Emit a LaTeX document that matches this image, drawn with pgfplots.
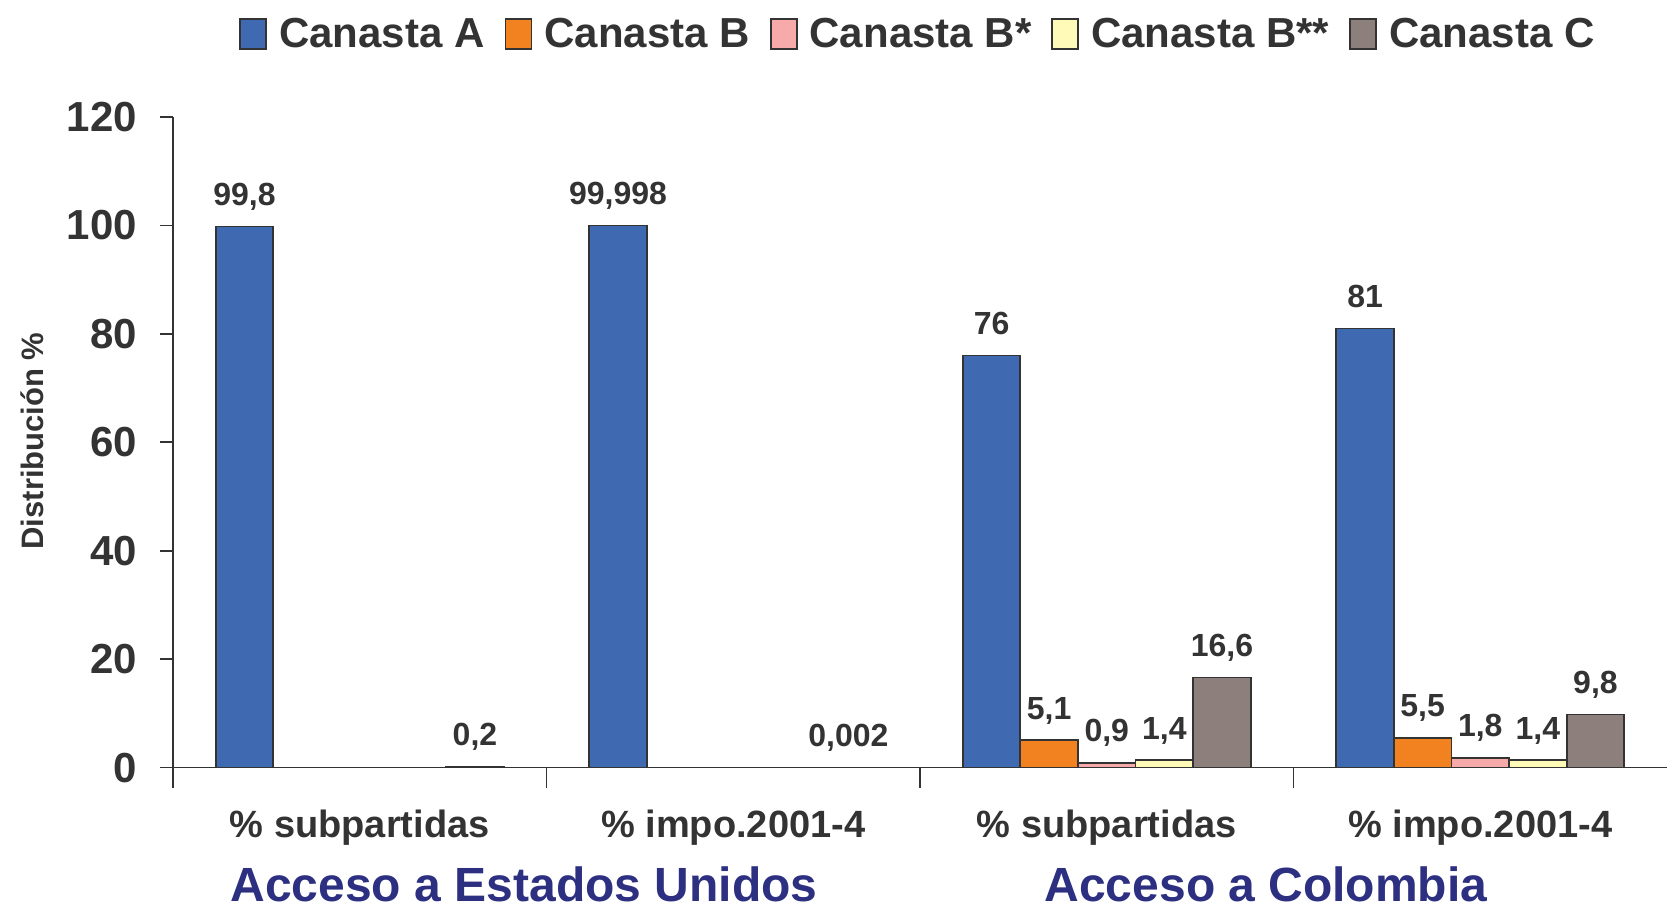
\documentclass[border=0pt]{standalone}
\usepackage{pgfplots}
\pgfplotsset{compat=1.18}
\usepackage{fontspec}
\setmainfont{Liberation Sans}
\definecolor{txt}{HTML}{333333}
\definecolor{cA}{HTML}{3F6AB2}
\definecolor{cB}{HTML}{F28220}
\definecolor{cBs}{HTML}{F7AAAA}
\definecolor{cBss}{HTML}{FFFAB8}
\definecolor{cC}{HTML}{8D807C}
\definecolor{navy}{HTML}{2D2F80}
\begin{document}
\begin{tikzpicture}
\useasboundingbox (0,0) rectangle (833.5pt,454pt);
\begin{axis}[
  at={(86.5pt,70.2pt)}, anchor=south west,
  scale only axis, width=747pt, height=325.3pt,
  xmin=-0.5, xmax=3.5, ymin=0, ymax=120,
  axis x line*=bottom, axis y line*=left,
  axis line style={draw=txt, line width=0.8pt, -},
  ytick={0,20,40,60,80,100,120},
  xtick={0,1,2,3},
  xticklabels={\% subpartidas, \% impo.2001-4, \% subpartidas, \% impo.2001-4},
  minor xtick={-0.5,0.5,1.5,2.5},
  tick align=outside,
  major tick length=6.5pt, minor tick length=10pt,
  major x tick style={draw=none},
  minor x tick style={draw=txt, line width=0.8pt},
  major y tick style={draw=txt, line width=0.8pt},
  /pgf/number format/assume math mode=true,
  yticklabel style={font=\bfseries\fontsize{21}{21}\selectfont, text=txt, xshift=-8pt},
  xticklabel style={font=\bfseries\fontsize{19}{19}\selectfont, text=txt, yshift=-11pt},
  ybar=0pt, bar width=28.8pt,
  every axis plot/.append style={draw=txt, line width=0.9pt},
  point meta=explicit symbolic,
  nodes near coords,
  every node near coord/.append style={font=\bfseries\fontsize{16}{16}\selectfont, text=txt, anchor=south, inner sep=0pt, text depth=0pt, yshift=10pt},
  legend style={at={(0.5,1.1276)}, anchor=center, draw=none, fill=none,
    font=\bfseries\fontsize{21}{21}\selectfont, text=txt,
    /tikz/every even column/.append style={column sep=7pt},
    nodes={inner sep=3pt},
    /tikz/every odd column/.append style={column sep=3pt}},
  legend columns=-1,
  legend image code/.code={\draw[#1, line width=0.9pt] (0pt,-7.5pt) rectangle (13pt,7.5pt);},
]
\addplot[fill=cA] coordinates {(0,99.8) [{99,8}] (1,99.998) [{99,998}] (2,76) [76] (3,81) [81]};
\addplot[fill=cB] coordinates {(2,5.1) [{5,1}] (3,5.5) [{5,5}]};
\addplot[fill=cBs] coordinates {(2,0.9) [{0,9}] (3,1.8) [{1,8}]};
\addplot[fill=cBss] coordinates {(2,1.4) [{1,4}] (3,1.4) [{1,4}]};
\addplot[fill=cC] coordinates {(0,0.2) [{0,2}] (1,0.002) [{0,002}] (2,16.6) [{16,6}] (3,9.8) [{9,8}]};
\legend{Canasta A, Canasta B, Canasta B*, Canasta B**, Canasta C}
\end{axis}
\node[rotate=90, font=\bfseries\fontsize{15.5}{15.5}\selectfont, text=txt] at (16pt,233.5pt) {Distribución \%};
\node[inner sep=0pt, font=\bfseries\fontsize{24}{24}\selectfont, text=navy] at (262pt,12pt) {Acceso a Estados Unidos};
\node[inner sep=0pt, font=\bfseries\fontsize{24}{24}\selectfont, text=navy] at (633pt,12pt) {Acceso a Colombia};
\end{tikzpicture}
\end{document}
